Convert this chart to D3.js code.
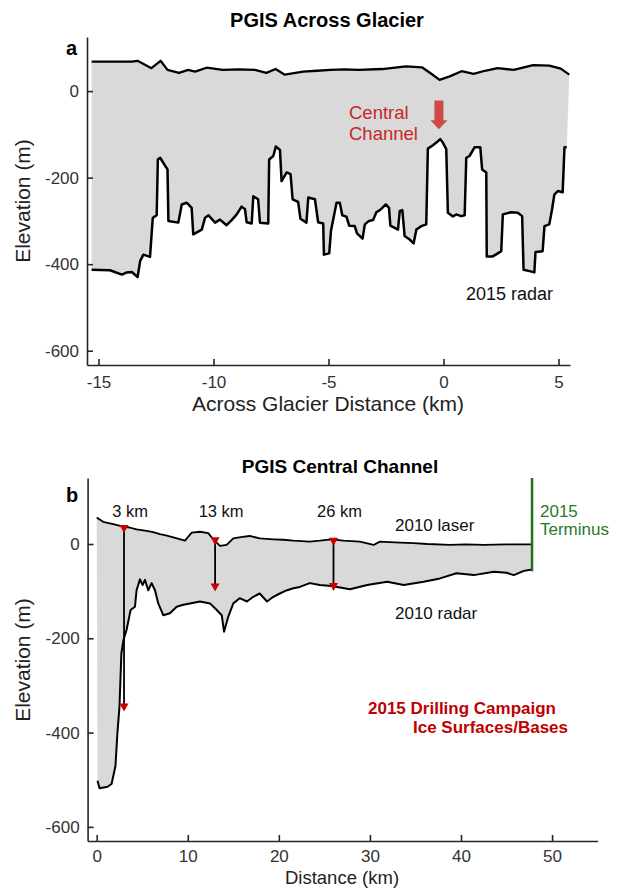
<!DOCTYPE html>
<html>
  <head>
    <meta charset="utf-8">
    <title>PGIS profiles</title>
    <script src="https://cdn.jsdelivr.net/npm/d3@7"></script>
    <style>
      body { margin: 0; background: #fff; }
      svg text { font-family: "Liberation Sans", Arial, Helvetica, sans-serif; }
    </style>
  </head>
  <body>
    <script>
      // ---- panel a: across glacier (2015 radar) ----
      var surfA_km = [-15.3, -13.56, -13.3, -12.7, -12.3, -12.0, -11.5, -11.1, -10.8, -10.3, -9.6, -8.9, -8.2, -7.7, -7.3, -6.9, -6.1, -5.5, -4.9, -4.3, -3.7, -2.66, -1.63, -0.94, -0.5, -0.17, 0.27, 0.79, 1.31, 1.8, 2.35, 3.05, 3.9, 4.6, 5.1, 5.47];
      var surfA_elev = [68, 68, 70, 53, 70, 49, 42, 49, 45, 54, 49, 50, 49, 42, 51, 38, 45, 47, 49, 50, 49, 51, 57, 55, 39, 26, 34, 46, 40, 47, 53, 49, 60, 59, 52, 38];

      var bedA_km = [-15.3, -14.5, -13.98, -13.77, -13.55, -13.3, -13.19, -13.05, -12.76, -12.64, -12.47, -12.42, -12.32, -12.1, -12.0, -11.96, -11.53, -11.38, -11.16, -10.95, -10.88, -10.51, -10.37, -10.22, -9.93, -9.72, -9.43, -9.21, -8.99, -8.78, -8.63, -8.56, -8.34, -8.27, -8.06, -7.98, -7.62, -7.58, -7.4, -7.29, -7.11, -7.04, -6.82, -6.65, -6.56, -6.32, -6.22, -5.96, -5.88, -5.59, -5.45, -5.23, -5.2, -4.97, -4.89, -4.65, -4.51, -4.4, -4.22, -4.1, -3.86, -3.76, -3.52, -3.42, -3.24, -3.06, -2.92, -2.77, -2.66, -2.51, -2.37, -2.31, -1.98, -1.9, -1.79, -1.69, -1.47, -1.3, -1.18, -0.96, -0.75, -0.68, -0.46, -0.31, -0.14, -0.03, 0.12, 0.19, 0.41, 0.55, 0.77, 0.92, 0.99, 1.13, 1.35, 1.6, 1.68, 1.86, 1.88, 2.14, 2.36, 2.51, 2.58, 2.94, 3.23, 3.42, 3.48, 3.74, 3.95, 4.0, 4.31, 4.39, 4.6, 4.72, 4.82, 4.97, 5.18, 5.26, 5.36];
      var bedA_elev = [-413, -414, -424, -419, -418, -430, -393, -378, -383, -293, -287, -158, -154, -173, -181, -300, -304, -262, -258, -270, -331, -320, -293, -287, -304, -297, -310, -298, -285, -267, -273, -303, -306, -243, -250, -304, -306, -158, -150, -128, -136, -208, -188, -192, -250, -256, -295, -304, -246, -250, -303, -306, -378, -375, -322, -258, -258, -287, -290, -311, -312, -329, -341, -308, -300, -298, -280, -275, -270, -262, -270, -311, -320, -277, -275, -335, -343, -352, -320, -312, -308, -133, -125, -119, -111, -119, -134, -281, -290, -285, -289, -287, -154, -150, -130, -130, -181, -188, -382, -382, -375, -370, -285, -280, -281, -289, -413, -416, -419, -372, -370, -312, -308, -273, -239, -231, -234, -130, -130];

      var xTicksA = [-15, -10, -5, 0, 5];
      var yTicks = [-600, -400, -200, 0];

      // ---- panel b: central channel (2010 laser / radar) ----
      var lasB_km = [0, 0.71, 1.81, 2.91, 3.6, 4.38, 5.48, 6.2, 6.95, 7.7, 8.41, 9.69, 10.43, 11.34, 12.25, 12.8, 13.54, 14.27, 15.0, 16.0, 16.8, 17.9, 19.4, 20.5, 21.6, 23.4, 24.5, 25.8, 27.1, 28.9, 30.4, 31.1, 33.3, 34.8, 36.3, 38.8, 40.5, 42.5, 45.0, 47.8];
      var lasB_elev = [56, 47, 42, 37, 35, 31, 28, 25, 21, 18, 14, 7, 24, 26, 23, 10, -4, -2, 12, 15, 17, 12, 10, 9, 7, 5, 7, 10, 7, 5, -2, 5, 3, 2, 0, -2, -1, -2, -1, -1];

      var radB_km = [0.09, 0.31, 1.19, 1.63, 2.06, 2.27, 2.5, 2.71, 2.93, 3.28, 3.72, 4.2, 4.38, 4.75, 5.04, 5.3, 5.66, 6.03, 6.4, 6.76, 7.31, 8.04, 8.78, 9.51, 10.24, 11.34, 12.44, 13.18, 13.73, 13.98, 14.45, 15.0, 15.7, 16.5, 17.2, 17.9, 18.7, 19.4, 20.1, 20.9, 21.6, 22.3, 23.4, 24.5, 25.8, 27.8, 29.7, 31.9, 33.7, 35.9, 37.7, 39.5, 41.4, 43.6, 45.0, 45.8, 46.9, 47.8];
      var radB_elev = [-502, -518, -515, -509, -471, -402, -345, -232, -204, -182, -140, -133, -98, -75, -87, -76, -98, -83, -98, -126, -151, -147, -133, -129, -126, -122, -126, -140, -151, -186, -154, -126, -115, -122, -112, -105, -122, -112, -105, -98, -94, -91, -83, -87, -89, -96, -87, -80, -87, -80, -73, -62, -66, -59, -61, -66, -57, -54];

      // 2015 drilling sites: surface and base
      var drillKm = [3, 13, 26];
      var drillTop = [33, 7, 6];
      var drillBase = [-346, -91, -90];
      var drillLabels = ["3 km", "13 km", "26 km"];

      var terminusKm = 47.8;
      var terminusBottom = -58;

      var xTicksB = [0, 10, 20, 30, 40, 50];

      var fillGray = "#d9d9d9";
      var axisColor = "#262626";

      var svg = d3.select("body").append("svg")
        .attr("width", 621)
        .attr("height", 889)
        .style("background", "#fff");

      function zip(xs, ys) {
        return xs.map(function (d, i) { return [d, ys[i]]; });
      }

      function drawAxes(x, y, xTicks, xPad) {
        var xAxis = d3.axisBottom(x).tickValues(xTicks).tickSizeInner(-6).tickSizeOuter(0).tickPadding(xPad)
          .tickFormat(function (d) { return String(d); });
        var yAxis = d3.axisLeft(y).tickValues(yTicks).tickSizeInner(-6).tickSizeOuter(0).tickPadding(8)
          .tickFormat(function (d) { return String(d); });

        var gx = svg.append("g")
          .attr("transform", "translate(0," + y.range()[0] + ")")
          .call(xAxis);
        var gy = svg.append("g")
          .attr("transform", "translate(" + x.range()[0] + ",0)")
          .call(yAxis);

        [gx, gy].forEach(function (g) {
          g.attr("font-family", null).attr("font-size", null);
          g.select(".domain").attr("stroke", axisColor).attr("stroke-width", 1.6);
          g.selectAll(".tick line").attr("stroke", axisColor).attr("stroke-width", 1.6);
          g.selectAll(".tick text").attr("fill", "#333").style("font-size", "17px");
        });
      }

      // ================= panel a =================
      var xA = d3.scaleLinear().domain([-15.5, 5.5]).range([87, 570]);
      var yA = d3.scaleLinear().domain([-633, 125]).range([365, 37]);

      var lineA = d3.line()
        .x(function (d) { return xA(d[0]); })
        .y(function (d) { return yA(d[1]); });

      var surfA = zip(surfA_km, surfA_elev);
      var bedA = zip(bedA_km, bedA_elev);

      // gray ice between surface and bed
      svg.append("path")
        .attr("d", lineA(surfA.concat(bedA.slice().reverse())) + "Z")
        .attr("fill", fillGray)
        .attr("stroke", "none");

      svg.append("path")
        .attr("d", lineA(surfA))
        .attr("fill", "none")
        .attr("stroke", "#000")
        .attr("stroke-width", 2.3)
        .attr("stroke-linejoin", "round");

      svg.append("path")
        .attr("d", lineA(bedA))
        .attr("fill", "none")
        .attr("stroke", "#000")
        .attr("stroke-width", 2.5)
        .attr("stroke-linejoin", "round");

      drawAxes(xA, yA, xTicksA, 11);

      svg.append("text").attr("x", 327).attr("y", 27)
        .attr("text-anchor", "middle").style("font-size", "20px").style("font-weight", "bold")
        .text("PGIS Across Glacier");
      svg.append("text").attr("x", 66).attr("y", 55)
        .style("font-size", "20px").style("font-weight", "bold").text("a");
      svg.append("text").attr("x", 328).attr("y", 411)
        .attr("text-anchor", "middle").style("font-size", "21px").attr("fill", "#222")
        .text("Across Glacier Distance (km)");
      svg.append("text")
        .attr("transform", "translate(30,201) rotate(-90)")
        .attr("text-anchor", "middle").style("font-size", "21px").attr("fill", "#222")
        .text("Elevation (m)");

      // central channel annotation
      var cc = svg.append("text").attr("fill", "#c62828").style("font-size", "18.5px");
      cc.append("tspan").attr("x", 349).attr("y", 119).text("Central");
      cc.append("tspan").attr("x", 349).attr("y", 140).text("Channel");

      var ax = xA(-0.2), aTop = yA(-22), aTip = yA(-88);
      svg.append("path")
        .attr("d", "M" + (ax - 4.5) + "," + aTop + "V" + (aTip - 9) + "H" + (ax - 8.5) +
          "L" + ax + "," + aTip + "L" + (ax + 8.5) + "," + (aTip - 9) + "H" + (ax + 4.5) + "V" + aTop + "Z")
        .attr("fill", "#d04a4a");

      svg.append("text").attr("x", 466).attr("y", 300)
        .style("font-size", "18px").attr("fill", "#111").text("2015 radar");

      // ================= panel b =================
      var xB = d3.scaleLinear().domain([-1, 55]).range([87.6, 597.6]);
      var yB = d3.scaleLinear().domain([-630, 140]).range([841, 478]);

      var lineB = d3.line()
        .x(function (d) { return xB(d[0]); })
        .y(function (d) { return yB(d[1]); });

      var lasB = zip(lasB_km, lasB_elev);
      var radB = zip(radB_km, radB_elev);

      svg.append("path")
        .attr("d", lineB(lasB.concat(radB.slice().reverse())) + "Z")
        .attr("fill", fillGray)
        .attr("stroke", "none");

      svg.append("path")
        .attr("d", lineB(lasB))
        .attr("fill", "none")
        .attr("stroke", "#000")
        .attr("stroke-width", 1.8)
        .attr("stroke-linejoin", "round");

      svg.append("path")
        .attr("d", lineB(radB))
        .attr("fill", "none")
        .attr("stroke", "#000")
        .attr("stroke-width", 2)
        .attr("stroke-linejoin", "round");

      // drill lines and triangles
      svg.selectAll(".drill")
        .data(drillKm)
        .enter()
        .append("line")
        .attr("x1", function (d) { return xB(d); })
        .attr("x2", function (d) { return xB(d); })
        .attr("y1", function (d, i) { return yB(drillTop[i]); })
        .attr("y2", function (d, i) { return yB(drillBase[i]); })
        .attr("stroke", "#000")
        .attr("stroke-width", 1.8);

      function tri(px, py) {
        return "M" + (px - 4.5) + "," + (py - 3.5) + "L" + (px + 4.5) + "," + (py - 3.5) + "L" + px + "," + (py + 4.5) + "Z";
      }
      var marks = [];
      drillKm.forEach(function (d, i) {
        marks.push([d, drillTop[i]]);
        marks.push([d, drillBase[i]]);
      });
      svg.selectAll(".tri")
        .data(marks)
        .enter()
        .append("path")
        .attr("d", function (d) { return tri(xB(d[0]), yB(d[1])); })
        .attr("fill", "#cc0000");

      svg.selectAll(".drillLabel")
        .data(drillKm)
        .enter()
        .append("text")
        .attr("x", function (d) { return xB(d) + 6; })
        .attr("y", 517)
        .attr("text-anchor", "middle")
        .style("font-size", "16.5px")
        .attr("fill", "#111")
        .text(function (d, i) { return drillLabels[i]; });

      // 2015 terminus
      svg.append("line")
        .attr("x1", xB(terminusKm)).attr("x2", xB(terminusKm))
        .attr("y1", yB.range()[1]).attr("y2", yB(terminusBottom))
        .attr("stroke", "#1f701f").attr("stroke-width", 2.5);
      var term = svg.append("text").attr("fill", "#2a7a2a").style("font-size", "17px");
      term.append("tspan").attr("x", 540).attr("y", 517).text("2015");
      term.append("tspan").attr("x", 540).attr("y", 535).text("Terminus");

      drawAxes(xB, yB, xTicksB, 9);

      svg.append("text").attr("x", 340).attr("y", 473)
        .attr("text-anchor", "middle").style("font-size", "19px").style("font-weight", "bold")
        .text("PGIS Central Channel");
      svg.append("text").attr("x", 66).attr("y", 502)
        .style("font-size", "20px").style("font-weight", "bold").text("b");

      svg.append("text").attr("x", 395).attr("y", 531)
        .style("font-size", "17px").attr("fill", "#111").text("2010 laser");
      svg.append("text").attr("x", 395).attr("y", 619)
        .style("font-size", "17px").attr("fill", "#111").text("2010 radar");

      var dc = svg.append("text").attr("fill", "#c00000").style("font-size", "17px").style("font-weight", "bold");
      dc.append("tspan").attr("x", 368).attr("y", 714).text("2015 Drilling Campaign");
      dc.append("tspan").attr("x", 413).attr("y", 733).text("Ice Surfaces/Bases");

      svg.append("text").attr("x", 342).attr("y", 884)
        .attr("text-anchor", "middle").style("font-size", "18.5px").attr("fill", "#222")
        .text("Distance (km)");
      svg.append("text")
        .attr("transform", "translate(30,660) rotate(-90)")
        .attr("text-anchor", "middle").style("font-size", "21px").attr("fill", "#222")
        .text("Elevation (m)");
    </script>
  </body>
</html>
